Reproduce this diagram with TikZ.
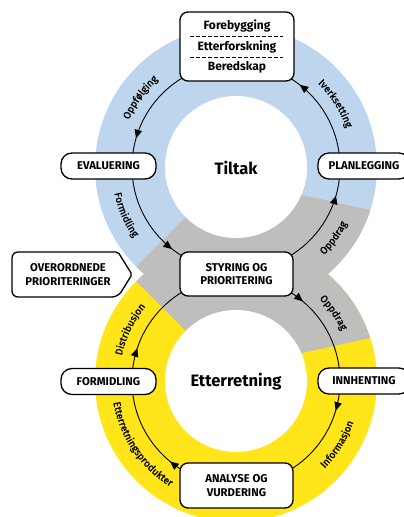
\documentclass[tikz,border=0pt]{standalone}
\usepackage{fontspec}
\setmainfont{Fira Sans}
\newfontfamily\labelfamily[FakeBold=1.2]{Fira Sans}
\usetikzlibrary{arrows.meta,decorations.markings,decorations.text,calc}
\definecolor{ringblue}{RGB}{189,214,238}
\definecolor{ringgray}{RGB}{191,190,189}
\definecolor{ringyellow}{RGB}{255,229,26}
\newcommand\arclabelfont{\labelfamily\fontsize{10}{12}\selectfont}
\begin{document}
\begin{tikzpicture}[x=1pt,y=1pt,
  boxtext/.style={font=\bfseries\fontsize{11.3}{13.5}\selectfont},
  box/.style={draw=black, line width=1.3pt, fill=white, rounded corners=8pt, inner sep=0pt, align=center, boxtext},
  pill/.style={box, rounded corners=11pt, minimum width=95pt, minimum height=26pt},
  conn/.style={line width=0.9pt},
  arrowat/.style={postaction={decorate, decoration={markings, mark=at position #1 with {\arrow{Triangle[length=8.5pt,width=7.5pt]}}}}},
  arclabel/.style={decorate, decoration={text along path, text align=center, text={|\arclabelfont|#1}}},
  sep/.style={line width=1pt, dash pattern=on 3.5pt off 2.5pt},
  toptext/.style={font=\bfseries\fontsize{12}{14}\selectfont},
  biglabel/.style={font=\bfseries\fontsize{16.5}{18}\selectfont},
]
\useasboundingbox (0,0) rectangle (404,-517);
\coordinate (T) at (236,-167);
\coordinate (B) at (236,-381);
% rings
\fill[ringblue] (T) circle[radius=141];
\fill[ringyellow] (B) circle[radius=141];
\begin{scope}
  \clip (129,-274) -- (T) -- (236,-180.5) -- (600,-260.6) -- (600,-287.4) -- (236,-367.5) -- (B) -- cycle;
  \fill[ringgray] (T) circle[radius=141] (B) circle[radius=141];
\end{scope}
\fill[white] (T) circle[radius=71] (B) circle[radius=71];
% top cycle connectors (counterclockwise)
\draw[conn, arrowat=0.822] ([shift={(90:104)}]T) arc[start angle=90, end angle=180, radius=104];
\draw[conn, arrowat=0.578] ([shift={(180:104)}]T) arc[start angle=180, end angle=270, radius=104];
\draw[conn, arrowat=0.822] ([shift={(270:104)}]T) arc[start angle=270, end angle=360, radius=104];
\draw[conn, arrowat=0.58] ([shift={(0:104)}]T) arc[start angle=0, end angle=90, radius=104];
% bottom cycle connectors (clockwise)
\draw[conn, arrowat=0.444] ([shift={(90:104)}]B) arc[start angle=90, end angle=0, radius=104];
\draw[conn, arrowat=0.184] ([shift={(0:104)}]B) arc[start angle=0, end angle=-90, radius=104];
\draw[conn, arrowat=0.437] ([shift={(-90:104)}]B) arc[start angle=-90, end angle=-180, radius=104];
\draw[conn, arrowat=0.204] ([shift={(180:104)}]B) arc[start angle=180, end angle=90, radius=104];
% arc labels
\path[arclabel=Oppfølging] ([shift={(184:117)}]T) arc[start angle=184, end angle=104, radius=117];
\path[arclabel=Formidling] ([shift={(163.4:124.5)}]T) arc[start angle=163.4, end angle=243.4, radius=124.5];
\path[arclabel=Oppdrag] ([shift={(-76:124.5)}]T) arc[start angle=-76, end angle=4, radius=124.5];
\path[arclabel=Iverksetting] ([shift={(72.5:117)}]T) arc[start angle=72.5, end angle=-7.5, radius=117];
\path[arclabel=Oppdrag] ([shift={(75:117)}]B) arc[start angle=75, end angle=-5, radius=117];
\path[arclabel=Informasjon] ([shift={(-72:124.5)}]B) arc[start angle=-72, end angle=8, radius=124.5];
\path[arclabel=Etterretningsprodukter] ([shift={(164:124.5)}]B) arc[start angle=164, end angle=264, radius=124.5];
\path[arclabel=Distribusjon] ([shift={(194:117)}]B) arc[start angle=194, end angle=114, radius=117];
% centre labels
\node[biglabel] (tl) at (236,-168) {Tiltak};
\node[biglabel] (et) at (236,-382) {Etterretning};
% top box
\node[box, minimum width=114pt, minimum height=69pt] (tb) at (237,-46.5) {};
\node[toptext] (tb1) at (237,-25.5) {Forebygging};
\node[toptext] (tb2) at (237,-46.5) {Etterforskning};
\node[toptext] (tb3) at (237,-67) {Beredskap};
\draw[sep] ([xshift=11pt,yshift=10.5pt]tb.west) -- ([xshift=-12pt,yshift=10.5pt]tb.east);
\draw[sep] ([xshift=11pt,yshift=-10.5pt]tb.west) -- ([xshift=-12pt,yshift=-10.5pt]tb.east);
% other boxes
\node[pill] (ev) at (108.5,-166) {EVALUERING};
\node[pill, minimum width=92pt] (pl) at (364,-166) {PLANLEGGING};
\node[pill] (fo) at (108.5,-381.5) {FORMIDLING};
\node[pill, minimum width=92pt] (inn) at (364,-381) {INNHENTING};
\node[box, minimum width=113pt, minimum height=44pt] (st) at (236.5,-274) {STYRING OG\\PRIORITERING};
\node[box, minimum width=113pt, minimum height=45pt] (an) at (236.5,-485.5) {ANALYSE OG\\VURDERING};
% input arrow box
\draw[line width=1.3pt, fill=white] (60,-252) [rounded corners=6pt] -- (12,-252) -- (12,-297) -- (118,-297) [rounded corners=2pt] -- (132,-274.5) -- (118,-252) -- cycle;
\node[boxtext, align=center] (ov) at (68,-274.5) {OVERORDNEDE\\PRIORITERINGER};
\end{tikzpicture}
\end{document}
